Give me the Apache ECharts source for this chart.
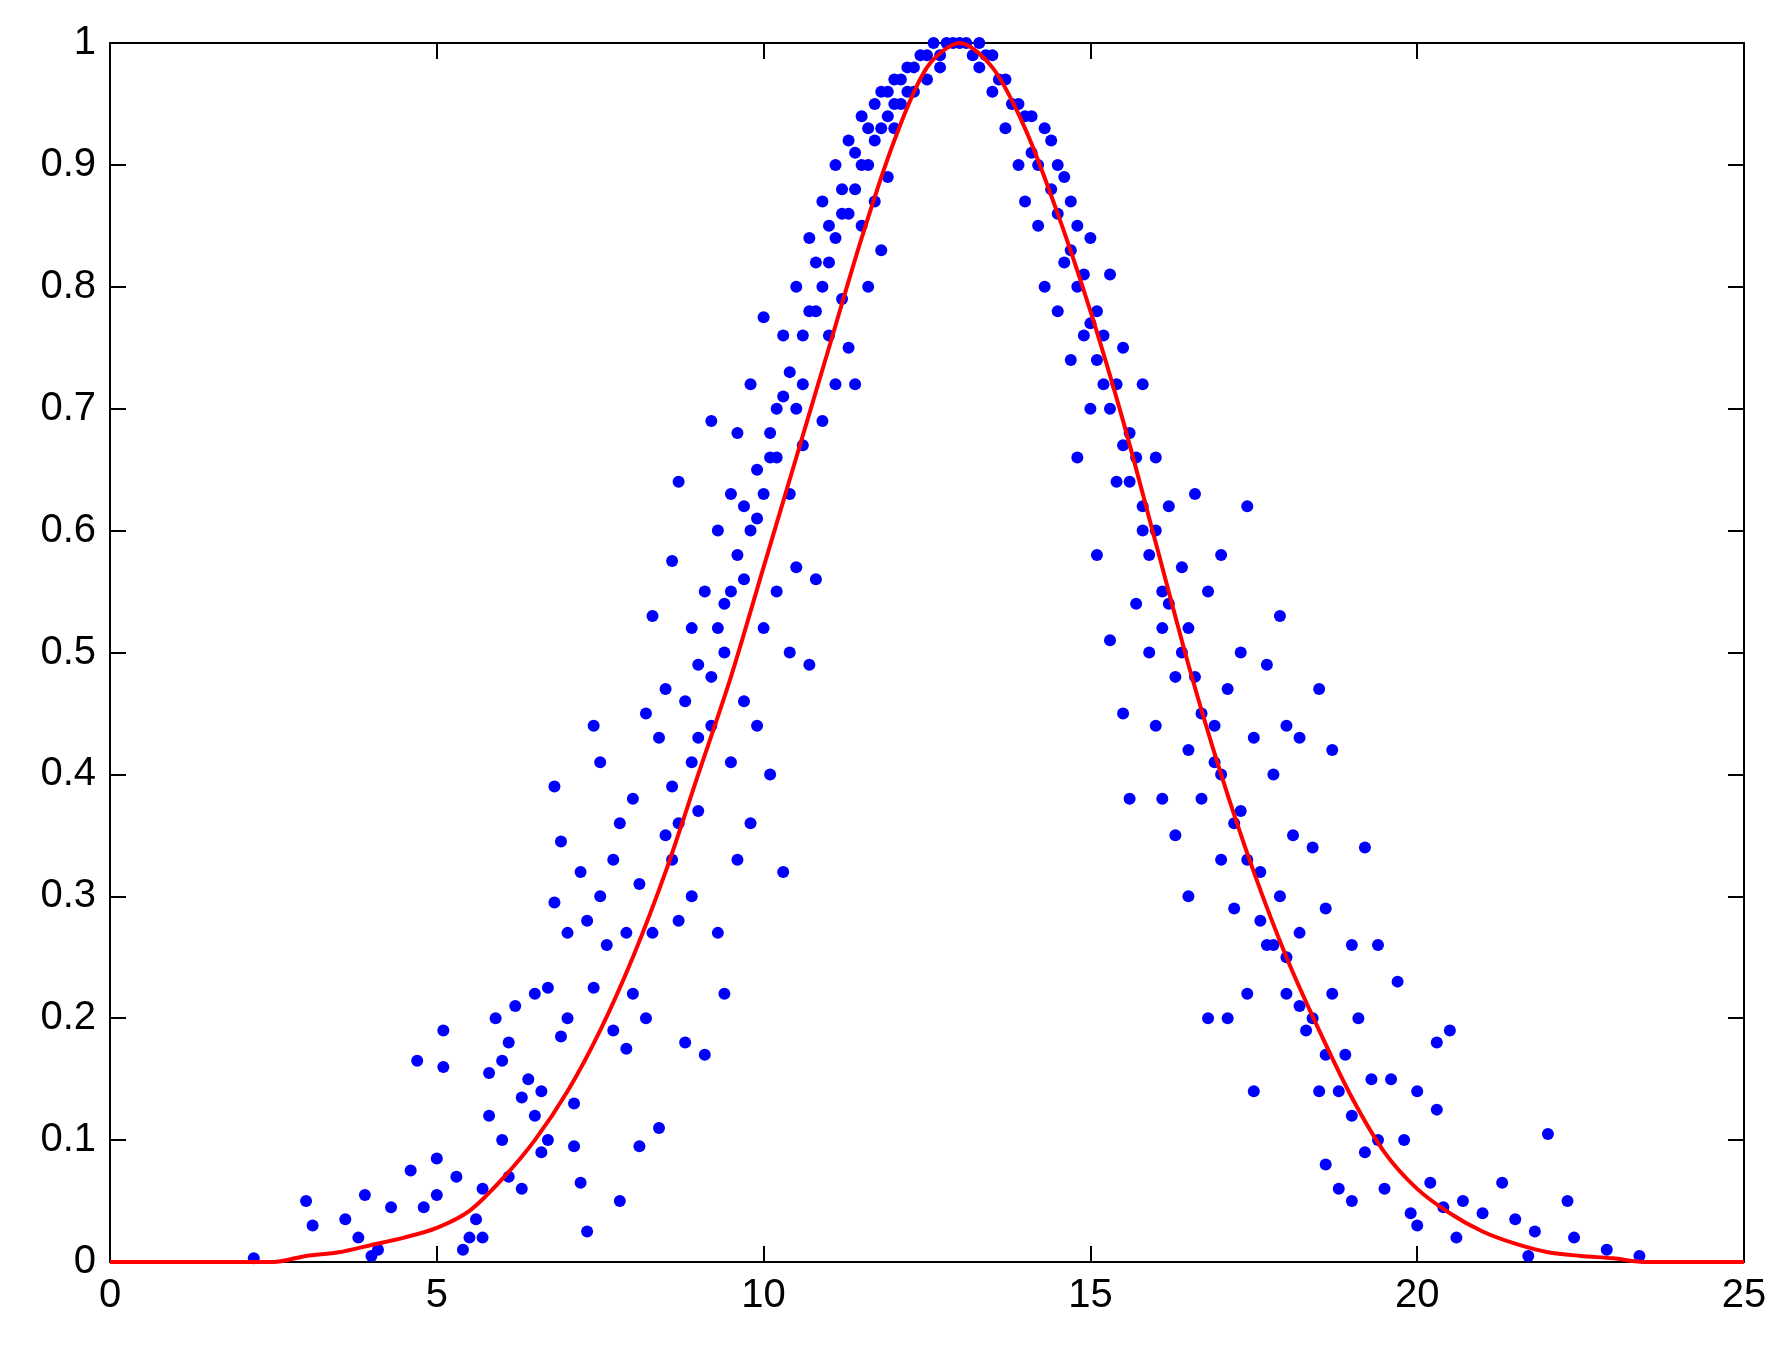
<!DOCTYPE html>
<html>
<head>
<meta charset="utf-8">
<script src="https://cdn.jsdelivr.net/npm/echarts@6/dist/echarts.min.js"></script>
<style>html,body{margin:0;background:#fff}</style>
</head>
<body>
<div id="main" style="width:1779px;height:1348px;"></div>
<script>
// red fitted curve
var curveX = [0, 2.5, 3, 3.5, 4, 4.5, 5, 5.5, 6, 6.5, 7, 7.5, 8, 8.5, 9, 9.5, 10, 10.5, 11, 11.5, 12, 12.5, 13,
  13.5, 14, 14.5, 15, 15.5, 16, 16.5, 17, 17.5, 18, 18.5, 19, 19.5, 20, 20.5, 21, 21.5, 22, 22.5, 23, 23.5, 25];
var curveY = [0, 0, 0.005, 0.008, 0.014, 0.02, 0.028, 0.042, 0.068, 0.1, 0.14, 0.19, 0.25, 0.32, 0.4, 0.48, 0.57, 0.66, 0.75, 0.84, 0.92, 0.98, 1.0,
  0.98, 0.93, 0.86, 0.78, 0.69, 0.59, 0.49, 0.4, 0.32, 0.25, 0.19, 0.135, 0.09, 0.06, 0.04, 0.025, 0.015, 0.008, 0.005, 0.003, 0, 0];

// blue sample points [x, y]
var points = [
  [2.2,0.003],[3.0,0.05],[3.1,0.03],[3.6,0.035],[3.8,0.02],[3.9,0.055],[4.0,0.005],[4.1,0.01],[4.3,0.045],[4.6,0.075],
  [4.7,0.165],[4.8,0.045],[5.0,0.085],[5.0,0.055],[5.1,0.19],[5.1,0.16],[5.3,0.07],[5.4,0.01],[5.5,0.02],[5.6,0.035],
  [5.7,0.02],[5.7,0.06],[5.8,0.12],[5.8,0.155],[5.9,0.2],[6.0,0.1],[6.0,0.165],[6.1,0.07],[6.1,0.18],[6.2,0.21],
  [6.3,0.06],[6.3,0.135],[6.4,0.15],[6.5,0.12],[6.5,0.22],[6.6,0.09],[6.6,0.14],[6.7,0.225],[6.7,0.1],[6.8,0.39],
  [6.8,0.295],[6.9,0.185],[6.9,0.345],[7.0,0.27],[7.0,0.2],[7.1,0.095],[7.1,0.13],[7.2,0.065],[7.2,0.32],[7.3,0.025],
  [7.3,0.28],[7.4,0.44],[7.4,0.225],[7.5,0.41],[7.5,0.3],[7.6,0.26],[7.7,0.33],[7.7,0.19],[7.8,0.05],[7.8,0.36],
  [7.9,0.27],[7.9,0.175],[8.0,0.38],[8.0,0.22],[8.1,0.31],[8.1,0.095],[8.2,0.45],[8.2,0.2],[8.3,0.53],[8.3,0.27],
  [8.4,0.43],[8.4,0.11],[8.5,0.47],[8.5,0.35],[8.6,0.575],[8.6,0.39],[8.7,0.64],[8.7,0.28],[8.8,0.46],[8.8,0.18],
  [8.9,0.52],[8.9,0.3],[9.0,0.49],[9.0,0.37],[9.1,0.55],[9.1,0.17],[9.2,0.69],[9.2,0.44],[9.3,0.6],[9.3,0.27],
  [9.4,0.54],[9.4,0.22],[9.5,0.63],[9.5,0.41],[9.6,0.68],[9.6,0.33],[9.7,0.56],[9.7,0.46],[9.8,0.72],[9.8,0.36],
  [9.9,0.61],[9.9,0.44],[10.0,0.775],[10.0,0.52],[10.1,0.66],[10.1,0.4],[10.2,0.7],[10.2,0.55],[10.3,0.76],[10.3,0.32],
  [10.4,0.63],[10.4,0.5],[10.5,0.8],[10.5,0.57],[10.6,0.72],[10.6,0.67],[10.7,0.84],[10.7,0.49],[10.8,0.78],[10.8,0.56],
  [10.9,0.87],[10.9,0.69],[11.0,0.82],[11.0,0.76],[11.1,0.9],[11.1,0.72],[11.2,0.86],[11.2,0.79],[11.3,0.92],[11.3,0.75],
  [11.4,0.88],[11.4,0.72],[11.5,0.94],[11.5,0.85],[11.6,0.9],[11.6,0.8],[11.7,0.95],[11.7,0.87],[11.8,0.93],[11.8,0.83],
  [11.9,0.96],[11.9,0.89],[12.0,0.97],[12.0,0.93],[12.1,0.95],[12.2,0.98],[12.3,0.96],[12.4,0.99],[12.5,0.97],[12.6,1.0],
  [12.7,0.99],[12.8,1.0],[12.9,1.0],[13.0,1.0],[13.1,1.0],[13.2,0.99],[13.3,0.98],[13.4,0.99],[13.5,0.96],[13.6,0.97],
  [13.7,0.93],[13.8,0.95],[13.9,0.9],[14.0,0.94],[14.0,0.87],[14.1,0.91],[14.2,0.85],[14.3,0.93],[14.3,0.8],[14.4,0.88],
  [14.5,0.78],[14.5,0.9],[14.6,0.82],[14.7,0.74],[14.7,0.87],[14.8,0.66],[14.8,0.8],[14.9,0.76],[15.0,0.84],[15.0,0.7],
  [15.1,0.58],[15.1,0.78],[15.2,0.72],[15.3,0.81],[15.3,0.51],[15.4,0.64],[15.5,0.75],[15.5,0.45],[15.6,0.68],[15.6,0.38],
  [15.7,0.54],[15.8,0.72],[15.8,0.6],[15.9,0.5],[16.0,0.66],[16.0,0.44],[16.1,0.55],[16.1,0.38],[16.2,0.62],[16.3,0.48],
  [16.3,0.35],[16.4,0.57],[16.5,0.42],[16.5,0.3],[16.6,0.63],[16.6,0.48],[16.7,0.38],[16.8,0.55],[16.8,0.2],[16.9,0.44],
  [17.0,0.58],[17.0,0.33],[17.1,0.2],[17.1,0.47],[17.2,0.29],[17.3,0.5],[17.3,0.37],[17.4,0.62],[17.4,0.22],[17.5,0.43],
  [17.5,0.14],[17.6,0.32],[17.7,0.49],[17.7,0.26],[17.8,0.4],[17.9,0.53],[17.9,0.3],[18.0,0.44],[18.0,0.22],[18.1,0.35],
  [18.2,0.43],[18.2,0.27],[18.3,0.19],[18.4,0.34],[18.5,0.47],[18.5,0.14],[18.6,0.29],[18.6,0.08],[18.7,0.42],[18.7,0.22],
  [18.8,0.06],[18.9,0.17],[19.0,0.26],[19.0,0.05],[19.1,0.2],[19.2,0.09],[19.2,0.34],[19.3,0.15],[19.4,0.26],[19.5,0.06],
  [19.6,0.15],[19.7,0.23],[19.8,0.1],[19.9,0.04],[20.0,0.14],[20.0,0.03],[20.2,0.065],[20.3,0.125],[20.3,0.18],[20.4,0.045],
  [20.5,0.19],[20.6,0.02],[20.7,0.05],[21.0,0.04],[21.3,0.065],[21.5,0.035],[21.7,0.005],[21.8,0.025],[22.0,0.105],[22.3,0.05],
  [22.4,0.02],[22.9,0.01],[23.4,0.005],
  // denser band around the curve
  [8.6,0.33],[8.7,0.36],[8.9,0.41],[9.0,0.43],[9.2,0.48],[9.3,0.52],[9.4,0.5],[9.5,0.55],[9.6,0.58],[9.7,0.62],
  [9.8,0.6],[9.9,0.65],[10.0,0.63],[10.1,0.68],[10.2,0.66],[10.3,0.71],[10.4,0.73],[10.5,0.7],[10.6,0.76],[10.7,0.78],
  [10.8,0.82],[10.9,0.8],[11.0,0.85],[11.1,0.84],[11.2,0.88],[11.3,0.86],[11.4,0.91],[11.5,0.9],[11.6,0.93],[11.7,0.92],
  [11.8,0.96],[11.9,0.94],[12.0,0.95],[12.1,0.97],[12.2,0.96],[12.3,0.98],[12.5,0.99],[12.7,0.98],[13.3,1.0],[13.5,0.99],
  [13.7,0.97],[13.9,0.95],[14.1,0.94],[14.2,0.9],[14.4,0.92],[14.5,0.86],[14.6,0.89],[14.7,0.83],[14.8,0.85],[14.9,0.81],
  [15.0,0.77],[15.1,0.74],[15.2,0.76],[15.3,0.7],[15.4,0.72],[15.5,0.67],[15.6,0.64],[15.7,0.66],[15.8,0.62],[15.9,0.58],
  [16.0,0.6],[16.1,0.52],[16.2,0.54],[16.4,0.5],[16.5,0.52],[16.7,0.45],[16.9,0.41],[17.0,0.4],[17.2,0.36],[17.4,0.33],
  [17.6,0.28],[17.8,0.26],[18.0,0.25],[18.2,0.21],[18.4,0.2],[18.6,0.17],[18.8,0.14],[19.0,0.12],[19.4,0.1]
];

var xTicks = [0, 5, 10, 15, 20, 25];
var yTicks = [0, 0.1, 0.2, 0.3, 0.4, 0.5, 0.6, 0.7, 0.8, 0.9, 1];

var curve = curveX.map(function (x, i) { return [x, curveY[i]]; });
var lbl = { color: '#000', fontSize: 40, fontFamily: 'Liberation Sans' };
function line() { return { show: true, onZero: false, lineStyle: { color: '#000', width: 2 } }; }
function tick() { return { show: true, inside: true, length: 16, lineStyle: { color: '#000', width: 2 } }; }

var myChart = echarts.init(document.getElementById('main'));
myChart.setOption({
  backgroundColor: '#fff',
  animation: false,
  grid: { left: 110, right: 35, top: 43, bottom: 86 },
  xAxis: [
    { type: 'value', min: 0, max: 25, interval: 5, axisLine: line(), axisTick: tick(),
      axisLabel: Object.assign({ margin: 14 }, lbl), splitLine: { show: false } },
    { type: 'value', position: 'top', min: 0, max: 25, interval: 5, axisLine: line(), axisTick: tick(),
      axisLabel: { show: false }, splitLine: { show: false } }
  ],
  yAxis: [
    { type: 'value', min: 0, max: 1, interval: 0.1, axisLine: line(), axisTick: tick(),
      axisLabel: Object.assign({ margin: 14, formatter: function (v) { return String(+v.toFixed(1)); } }, lbl),
      splitLine: { show: false } },
    { type: 'value', position: 'right', min: 0, max: 1, interval: 0.1, axisLine: line(), axisTick: tick(),
      axisLabel: { show: false }, splitLine: { show: false } }
  ],
  series: [
    { type: 'scatter', data: points, symbol: 'circle', symbolSize: 12,
      itemStyle: { color: '#0000ff', opacity: 1 }, z: 2 },
    { type: 'line', data: curve, smooth: 0.3, showSymbol: false,
      lineStyle: { color: '#ff0000', width: 4 }, z: 3 }
  ]
});
</script>
</body>
</html>
